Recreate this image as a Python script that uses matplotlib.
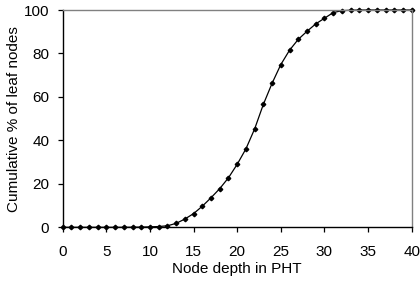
import matplotlib
matplotlib.use("Agg")
import matplotlib.pyplot as plt

# node depth vs cumulative % of leaf nodes
depth = list(range(0, 41))
cum_pct = [0, 0, 0, 0, 0, 0, 0, 0, 0.05, 0.1, 0.2, 0.35, 0.7,
           1.8, 3.8, 6.3, 9.7, 13.6, 17.8, 22.8, 29.0, 36.1, 45.3, 56.6,
           66.3, 74.9, 81.5, 86.5, 90.2, 93.6, 96.2, 98.8, 99.7,
           99.9, 100, 100, 100, 100, 100, 100, 100]
xticks = [0, 5, 10, 15, 20, 25, 30, 35, 40]
yticks = [0, 20, 40, 60, 80, 100]

plt.rcParams['font.family'] = ['Liberation Sans', 'DejaVu Sans']

fig = plt.figure(figsize=(4.2, 2.86), dpi=100)
ax = fig.add_axes([62.7 / 420, 1 - 227.3 / 286, (411.7 - 62.7) / 420, (227.3 - 10) / 286])

ax.plot(depth, cum_pct, color="black", lw=0.9, marker="D", ms=2.3,
        mfc="black", mec="black", clip_on=False)

ax.set_xlim(0, 40)
ax.set_ylim(0, 100)
ax.set_xticks(xticks)
ax.set_yticks(yticks)
ax.tick_params(direction="out", length=3.4, width=0.9, labelsize=11,
               colors="black")
ax.tick_params(axis="x", pad=9)
ax.tick_params(axis="y", pad=6.3)

for s in ("left", "bottom"):
    ax.spines[s].set_color("black")
    ax.spines[s].set_linewidth(1.0)
for s in ("top", "right"):
    ax.spines[s].set_color("#808080")
    ax.spines[s].set_linewidth(1.0)

ax.set_xlabel("Node depth in PHT", fontsize=11, labelpad=2.5)
ax.set_ylabel("Cumulative % of leaf nodes", fontsize=11, labelpad=2)

fig.savefig("out.png", dpi=100)
